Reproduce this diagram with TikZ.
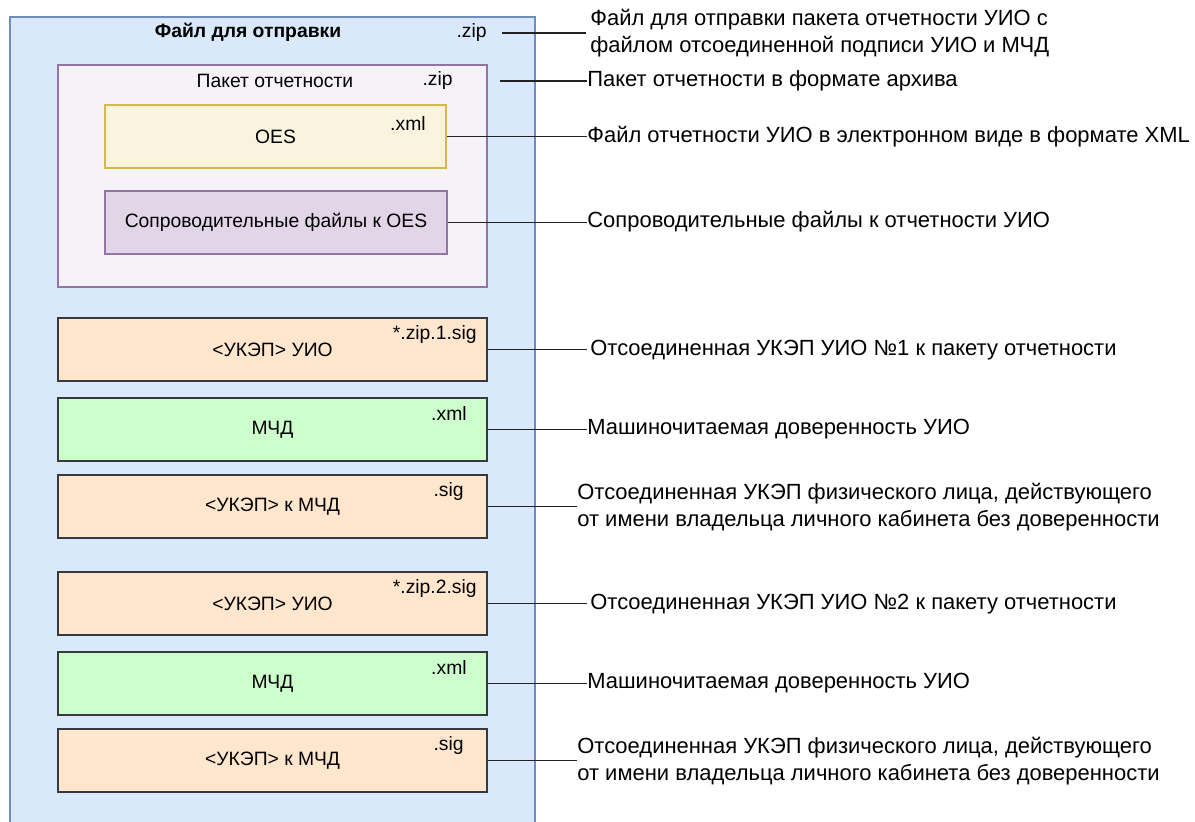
\documentclass[tikz,border=0pt]{standalone}
\usepackage{fontspec}
\setmainfont{Liberation Sans}
\usetikzlibrary{positioning}
\definecolor{outerfill}{HTML}{DAE8FC}
\definecolor{outerline}{HTML}{6C8EBF}
\definecolor{pkgfill}{HTML}{F6F3F8}
\definecolor{lilac}{HTML}{9673A6}
\definecolor{lilacfill}{HTML}{E1D5E7}
\definecolor{sand}{HTML}{FAF3DE}
\definecolor{sandline}{HTML}{D6B656}
\definecolor{peach}{HTML}{FFE6CC}
\definecolor{mint}{HTML}{CCFFCC}
\definecolor{boxline}{HTML}{36393D}
\definecolor{leadgray}{HTML}{222222}
\tikzset{filebox/.style={draw=boxline,line width=1pt,minimum width=8.58cm,minimum height=1.26cm,inner sep=0pt,font=\fontsize{11}{13}\selectfont}, ext/.style={anchor=east,inner sep=0pt,font=\fontsize{11}{13}\selectfont}, note/.style={anchor=west,align=left,inner sep=0pt,font=\fontsize{12.5}{15.2}\selectfont}, lead/.style={draw=leadgray,line width=0.8pt}}

\begin{document}
\begin{tikzpicture}[x=0.02cm,y=-0.02cm]
\useasboundingbox (0,0) rectangle (1195,821);
\node[draw=outerline,fill=outerfill,line width=0.8pt,minimum width=10.5cm,minimum height=16.4cm,inner sep=0pt] (send) at (272.5,427) {};
\node[font=\bfseries\fontsize{11}{13}\selectfont] (sendtitle) at (248,32) {Файл для отправки};
\node[ext] (sendext) at (487,33) {.zip};
\node[draw=lilac,fill=pkgfill,line width=0.8pt,minimum width=8.58cm,minimum height=4.44cm,inner sep=0pt] (pkg) at (272.5,176) {};
\node[font=\fontsize{11}{13}\selectfont] (pkgtitle) at (275,81) {Пакет отчетности};
\node[ext] (pkgext) at (453,81) {.zip};
\node[filebox,draw=sandline,fill=sand,minimum width=6.82cm] (oes) at (275.5,136.5) {OES};
\node[ext] (oesext) at (426,123) {.xml};
\node[filebox,draw=lilac,fill=lilacfill,minimum width=6.84cm] (extra) at (276,222.5) {Сопроводительные файлы к OES};
\node[filebox,fill=peach] (sigA) at (272.5,349.5) {<УКЭП> УИО};
\node[ext] (sigAext) at (477,334) {*.zip.1.sig};
\node[filebox,fill=mint] (mchdA) at (272.5,429.5) {МЧД};
\node[ext] (mchdAext) at (467,413) {.xml};
\node[filebox,fill=peach] (mchdsigA) at (272.5,506.5) {<УКЭП> к МЧД};
\node[ext] (mchdsigAext) at (464,491) {.sig};
\node[filebox,fill=peach] (sigB) at (272.5,603.5) {<УКЭП> УИО};
\node[ext] (sigBext) at (477,588) {*.zip.2.sig};
\node[filebox,fill=mint] (mchdB) at (272.5,683.5) {МЧД};
\node[ext] (mchdBext) at (467,667) {.xml};
\node[filebox,fill=peach] (mchdsigB) at (272.5,760.5) {<УКЭП> к МЧД};
\node[ext] (mchdsigBext) at (464,745) {.sig};
\node[note] (sendnote) at (590,33) {Файл для отправки пакета отчетности УИО с\\файлом отсоединенной подписи УИО и МЧД};
\node[note] (pkgnote) at (587,81) {Пакет отчетности в формате архива};
\node[note] (oesnote) at (587,137) {Файл отчетности УИО в электронном виде в формате XML};
\node[note] (extranote) at (587,222) {Сопроводительные файлы к отчетности УИО};
\node[note] (sigAnote) at (590,350) {Отсоединенная УКЭП УИО №1 к пакету отчетности};
\node[note] (mchdAnote) at (587,429) {Машиночитаемая доверенность УИО};
\node[note] (mchdsigAnote) at (577,507) {Отсоединенная УКЭП физического лица, действующего\\от имени владельца личного кабинета без доверенности};
\node[note] (sigBnote) at (590,604) {Отсоединенная УКЭП УИО №2 к пакету отчетности};
\node[note] (mchdBnote) at (587,683) {Машиночитаемая доверенность УИО};
\node[note] (mchdsigBnote) at (577,761) {Отсоединенная УКЭП физического лица, действующего\\от имени владельца личного кабинета без доверенности};
\draw[lead,shorten <=8.5pt,shorten >=2.5pt] (sendext.east) -- (sendext.east -| sendnote.west);
\draw[lead] ([xshift=7pt]pkg.east |- pkgext.east) -- (pkgext.east -| pkgnote.west);
\draw[lead] (oes.east) -- (oes.east -| oesnote.west);
\draw[lead] (extra.east) -- (extra.east -| extranote.west);
\draw[lead,shorten >=1.5pt] (sigA.east) -- (sigA.east -| sigAnote.west);
\draw[lead] (mchdA.east) -- (mchdA.east -| mchdAnote.west);
\draw[lead] (mchdsigA.east) -- (mchdsigA.east -| mchdsigAnote.west);
\draw[lead,shorten >=1.5pt] (sigB.east) -- (sigB.east -| sigBnote.west);
\draw[lead] (mchdB.east) -- (mchdB.east -| mchdBnote.west);
\draw[lead] (mchdsigB.east) -- (mchdsigB.east -| mchdsigBnote.west);
\end{tikzpicture}
\end{document}
